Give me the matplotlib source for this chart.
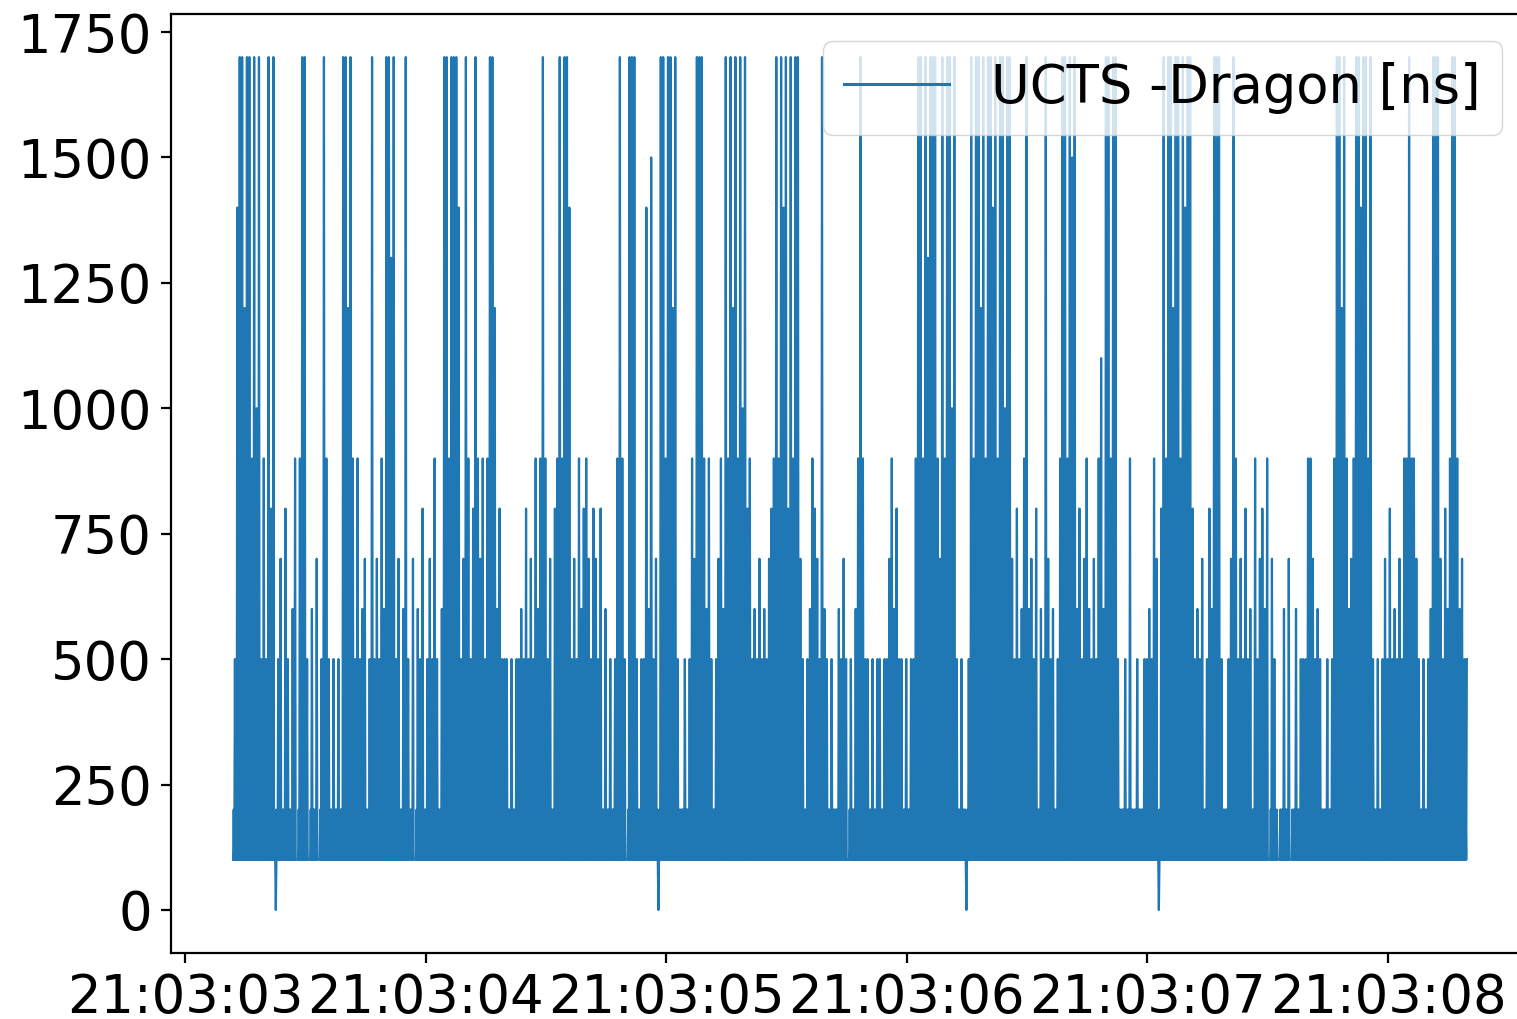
import numpy as np
import matplotlib
matplotlib.use("Agg")
import matplotlib.pyplot as plt
import matplotlib.dates as mdates

plt.rcParams['path.simplify'] = False

# ---------------- data ----------------
series_label = "UCTS -Dragon [ns]"
start_time = np.datetime64("2020-01-01T21:03:03.200")
bin_width_us = 10000          # one code per 10 ms bin
samples_per_bin = 4           # band low, band high, band low, peak

band_low = 100
band_high = 200

# peak value reached in each 10 ms bin (code -> ns)
level_codes = {'0': 0, '1': 100, '2': 200, '3': 300, '4': 400, '5': 500,
               '6': 600, '7': 700, '8': 800, '9': 900, 'A': 1000, 'B': 1100,
               'C': 1200, 'D': 1300, 'E': 1400, 'F': 1500, 'G': 1600, 'H': 1700}

peaks_03_2 = "5EHHCHH9HA" "H595H8H057" "28526919HH" "5162715H95" "25252HHCH9"
peaks_03_7 = "5956725H57" "596HHDH572" "6H52716582" "5759526HH9" "HHHE57H958"
peaks_04_2 = "H97959HHC6" "8555252556" "58575969H9" "57289H9HHE" "5759689758"
peaks_04_7 = "7582625259" "H951HHH525" "5E6F570HH9" "HHCH522525" "97HHH96952"
peaks_05_2 = "5796H9HCH9" "HAH8956575" "65789H9HEH" "8H9HH75256" "9875H65252"
peaks_05_7 = "2657515269" "H955252552" "5579685525" "2559HH9HDH" "HH97H9HHAH"
peaks_06_2 = "525205H9HH" "CH9HHEH9HH" "AHH758569H" "6758265H75" "6259HH9HFH"
peaks_06_7 = "6857965759" "B6HH9HH522" "5292252255" "659708H9HH" "CHH9HEHH85"
peaks_07_2 = "6572586HHH" "52257H9575" "8562957869" "1752126271" "2625559975"
peaks_07_7 = "65225259HH" "CH9679HHEH" "H9H5252575" "85657599H9" "97525256HH"
peaks_08_2 = "H75869HH96755"

peak_codes = (peaks_03_2 + peaks_03_7 + peaks_04_2 + peaks_04_7 + peaks_05_2 +
              peaks_05_7 + peaks_06_2 + peaks_06_7 + peaks_07_2 + peaks_07_7 +
              peaks_08_2)

# ---------------- build series ----------------
values = []
for c in peak_codes:
    p = level_codes[c]
    if p == band_low:
        values += [band_low, band_low, band_low, band_low]
    else:
        values += [band_low, band_high, band_low, p]
values = np.array(values, dtype=float)
step = np.timedelta64(bin_width_us // samples_per_bin, 'us')
times = start_time + np.arange(len(values)) * step

# ---------------- plot ----------------
fig = plt.figure(figsize=(15.17, 10.19), dpi=100)
ax = fig.add_axes([0.1130, 0.0652, 0.8946, 0.9206])

ax.plot(times, values, color='#1f77b4', lw=1.6, label=series_label)

ax.xaxis.set_major_locator(mdates.SecondLocator())
ax.xaxis.set_major_formatter(mdates.DateFormatter('%H:%M:%S'))
ax.set_yticks(np.arange(0, 1751, 250))

for s in ax.spines.values():
    s.set_linewidth(1.6)
ax.tick_params(axis='both', labelsize=38, length=7, width=1.6, pad=7)

leg = ax.legend(loc='upper right', fontsize=38)
for ln in leg.get_lines():
    ln.set_linewidth(2.2)

fig.savefig('out.png', dpi=100)
